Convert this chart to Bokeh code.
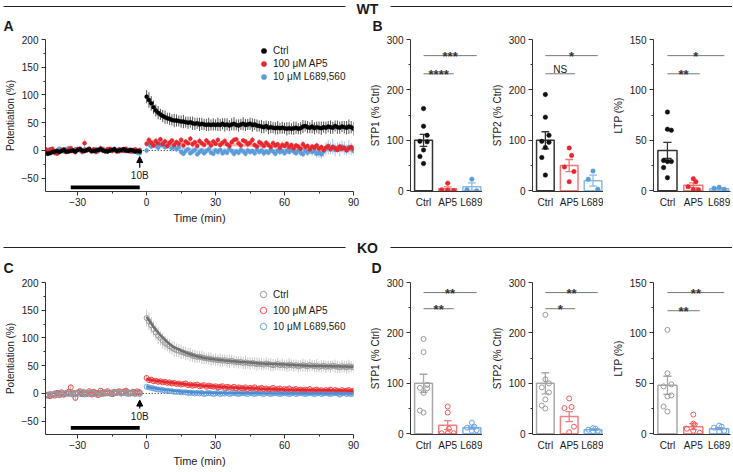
from bokeh.plotting import figure
from bokeh.layouts import column, row
from bokeh.models import (ColumnDataSource, FixedTicker, Legend, LegendItem, Arrow,
                          NormalHead, Label, Range1d, BoxAnnotation)
from bokeh.embed import file_html
from bokeh.resources import INLINE
from bokeh.core.properties import value

FONT = "Liberation Sans"
TXT = "#1a1a1a"

# ---------------- time-course data (Potentiation %, 1-min bins) ----------------
t_base = list(range(-44, -2))      # baseline, -44 .. -3 min
t_post = list(range(0, 91))        # after 10B, 0 .. 90 min
fit_t = [0, 1, 2, 3, 4, 5, 6, 8, 10, 12, 15, 18, 21, 25, 30, 35, 40, 50, 60, 70, 80, 90]

# WT
wt_ctrl_base = [-5, -6, -5, -3, -2, -1, -3, -1, 1, -2, -2, -1, 0, -2, 1, 2, 0, -1, 1, 2,
                -1, -1, 0, 1, 2, 0, -1, -2, 0, 1, 2, -1, 0, 1, 2, 0, -1, 1, 0, -2, -1, -2]
wt_ctrl_base_err = [3, 4, 3, 3, 2, 3, 4, 3, 3, 2, 3, 2, 3, 4, 3, 2, 3, 3, 2, 3,
                    4, 3, 2, 3, 3, 2, 3, 4, 3, 2, 3, 3, 2, 3, 4, 3, 2, 3, 3, 2, 3, 4]
wt_ctrl_post = [97, 91, 85, 78, 72, 68, 65, 62, 60, 58, 57, 55, 54, 54, 53, 52, 52, 51, 50, 51,
                49, 48, 49, 47, 48, 47, 46, 47, 46, 47, 46, 47, 46, 48, 46, 47, 45, 47, 48, 46,
                45, 47, 48, 46, 47, 48, 46, 47, 45, 44, 43, 42, 44, 41, 42, 41, 40, 41, 40, 41,
                40, 39, 40, 39, 40, 41, 39, 40, 43, 44, 42, 41, 43, 40, 42, 41, 40, 42, 41, 43,
                42, 41, 44, 42, 41, 43, 42, 41, 43, 42, 39]
wt_ctrl_post_err = [12, 14, 13, 12, 11, 12, 10, 11, 12, 10, 11, 10, 12, 11, 10, 11, 12, 10, 11, 10,
                    12, 11, 10, 12, 11, 10, 11, 12, 10, 11, 10, 12, 11, 10, 12, 11, 10, 11, 12, 10,
                    11, 10, 12, 11, 10, 11, 12, 10, 11, 10, 12, 11, 10, 12, 11, 10, 11, 12, 10, 11,
                    10, 12, 11, 10, 12, 11, 10, 11, 12, 10, 11, 10, 12, 11, 10, 11, 12, 10, 11, 10,
                    12, 11, 10, 12, 11, 10, 11, 12, 13, 11, 12]
wt_ap5_base = [2, -2, 1, 3, -4, -6, -2, 0, 2, -3, 1, 4, -1, -3, 2, 3, -2, 13, 0, 3,
               -1, 2, -3, 1, 4, 0, -2, 2, 3, -1, 1, -2, 2, 0, -1, 3, 1, -2, 0, 2, -1, 1]
wt_ap5_base_err = [4, 5, 3, 4, 5, 4, 3, 5, 4, 3, 4, 5, 3, 4, 4, 5, 3, 7, 4, 3,
                   5, 4, 3, 4, 5, 3, 4, 4, 3, 5, 4, 3, 4, 5, 3, 4, 4, 3, 5, 4, 3, 4]
wt_ap5_post = [12, 19, 14, 9, 17, 13, 20, 11, 16, 8, 14, 18, 10, 15, 12, 19, 9, 16, 13, 21,
               11, 15, 8, 17, 13, 10, 18, 14, 9, 16, 12, 19, 10, 14, 17, 11, 8, 15, 19, 20,
               13, 9, 18, 16, 11, 14, 19, 10, 7, 15, 12, 8, 14, 10, 6, 13, 9, 11, 5, 10,
               8, 12, 6, 10, 4, 9, 7, 3, 11, 6, 8, 2, 7, 5, 9, 3, 6, 1, 5, 8,
               2, 6, 4, 1, 7, 3, 5, 0, 4, 6, 3]
wt_ap5_post_err = [5, 6, 4, 5, 6, 4, 5, 5, 6, 4, 5, 4, 6, 5, 4, 5, 6, 4, 5, 5,
                   6, 4, 5, 6, 4, 5, 5, 4, 6, 5, 4, 5, 6, 4, 5, 5, 4, 6, 5, 4,
                   5, 6, 4, 5, 5, 4, 6, 5, 4, 5, 6, 4, 5, 5, 4, 6, 5, 4, 5, 6,
                   4, 5, 5, 4, 6, 5, 4, 5, 6, 4, 5, 5, 4, 6, 5, 4, 5, 6, 4, 5,
                   5, 4, 6, 5, 4, 5, 6, 4, 5, 5, 4]
wt_l689_base = [-3, 1, 2, -1, -4, 0, 3, 1, -2, 2, 4, 1, -1, 2, 3, 0, -3, 2, 1, 3,
                -2, 0, 2, -1, 1, 3, 0, 2, -1, 1, 3, 0, -2, 1, 2, -1, 0, 1, -3, -1, -4, -5]
wt_l689_base_err = [3, 4, 3, 5, 4, 3, 4, 3, 4, 5, 3, 4, 3, 4, 3, 5, 4, 3, 4, 3,
                    4, 3, 5, 4, 3, 4, 3, 4, 3, 5, 4, 3, 4, 3, 5, 4, 3, 4, 3, 4, 5, 4]
wt_l689_post = [0, 11, 7, 12, 9, 5, 10, 13, 6, 9, 11, 4, 8, 2, 6, -3, -6, -1, 2, -5,
                -2, 1, -7, -3, 0, -5, -1, 2, -4, -6, 0, -3, 1, -5, -2, -4, 2, -1, -6, -2,
                -4, 1, -2, -6, 0, -3, -1, -5, 1, -3, 0, -5, -2, -4, 1, -2, -6, 0, -3, -1,
                -5, 0, -3, 1, -2, -5, 0, -4, -7, -1, -4, 0, -3, -1, -6, -4, -7, -2, 3, 6,
                4, 7, 1, 5, 2, 7, 4, 1, 6, 3, -1]
wt_l689_post_err = [5, 6, 4, 5, 6, 5, 4, 6, 5, 4, 5, 6, 4, 5, 6, 5, 4, 6, 5, 4,
                    5, 6, 4, 5, 6, 5, 4, 6, 5, 4, 5, 6, 4, 5, 6, 5, 4, 6, 5, 4,
                    5, 6, 4, 5, 6, 5, 4, 6, 5, 4, 5, 6, 4, 5, 6, 5, 4, 6, 5, 4,
                    5, 6, 4, 5, 6, 5, 4, 6, 5, 4, 6, 7, 6, 8, 7, 9, 8, 10, 12, 13,
                    11, 14, 12, 10, 13, 11, 12, 10, 13, 11, 9]
wt_ctrl_fit = [96, 90, 84, 78, 73, 69, 65, 60, 57, 55, 52, 50, 48, 47, 46, 45, 45, 43, 41, 41, 41, 41]
wt_ap5_fit = [16, 16, 15.8, 15.6, 15.5, 15.3, 15.2, 15, 14.6, 14.3, 13.8, 13.3, 12.8, 12.2,
              11.5, 10.8, 10, 8.5, 7, 5.5, 4, 2.5]
wt_l689_fit = [10, 9.5, 9, 8.5, 8, 7.5, 7, 6, 5, 4.2, 3.2, 2.5, 2, 1.4, 1, 0.7, 0.5, 0.3, 0.2, 0.1, 0.1, 0.1]

# KO
ko_ctrl_base = [-3, -2, -1, -2, 0, -1, 1, -2, 0, 1, -1, 2, 0, -1, 1, 2, 3, 0, -1, 1,
                2, 0, -2, 1, 0, -1, 2, 1, 0, 2, 3, 1, 2, 0, 1, 3, 2, 0, 1, -1, 0, -1]
ko_ctrl_base_err = [3, 2, 3, 2, 3, 2, 3, 2, 3, 2, 3, 2, 3, 2, 3, 2, 3, 2, 3, 2,
                    3, 2, 3, 2, 3, 2, 3, 2, 3, 2, 3, 2, 3, 2, 3, 2, 3, 2, 3, 2, 3, 2]
ko_ctrl_post = [136, 130, 123, 116, 110, 104, 100, 95, 91, 88, 85, 82, 80, 78, 77, 75, 74, 72, 71, 70,
                68, 67, 66, 66, 65, 64, 63, 63, 62, 61, 61, 60, 60, 59, 60, 58, 58, 59, 57, 57,
                56, 57, 55, 56, 55, 54, 55, 54, 53, 54, 53, 52, 54, 53, 52, 51, 52, 53, 51, 52,
                51, 50, 52, 51, 50, 51, 49, 50, 51, 50, 49, 51, 50, 49, 50, 48, 49, 50, 48, 49,
                48, 50, 49, 48, 47, 49, 48, 47, 49, 48, 47]
ko_ctrl_post_err = [15, 16, 15, 14, 14, 15, 13, 14, 13, 12, 13, 12, 14, 12, 12, 13, 11, 12, 11, 12,
                    11, 12, 11, 10, 12, 11, 10, 11, 12, 10, 11, 10, 12, 11, 10, 11, 12, 10, 11, 10,
                    11, 10, 11, 12, 10, 11, 10, 11, 12, 10, 11, 10, 11, 10, 12, 11, 10, 11, 10, 11,
                    10, 11, 12, 10, 11, 10, 11, 10, 12, 11, 10, 11, 10, 11, 12, 10, 11, 10, 11, 10,
                    11, 10, 12, 11, 10, 11, 10, 11, 12, 10, 9]
ko_ap5_base = [-4, -3, -5, -2, -4, 1, -3, 2, -2, 0, 3, 11, 1, -8, 2, 4, -1, 2, 0, 4,
               -2, 3, 1, -3, 5, 2, 0, 4, 1, -1, 3, 2, 4, 1, 3, 5, 2, 0, 3, 1, 4, 2]
ko_ap5_base_err = [4, 5, 4, 5, 4, 5, 4, 5, 4, 5, 4, 6, 4, 6, 4, 5, 4, 5, 4, 5,
                   4, 5, 4, 5, 4, 5, 4, 5, 4, 5, 4, 5, 4, 5, 4, 5, 4, 5, 4, 5, 4, 5]
ko_ap5_post = [28, 24, 25, 22, 23, 21, 22, 20, 21, 19, 20, 18, 19, 17, 18, 16, 17, 18, 15, 16,
               14, 15, 16, 13, 14, 15, 12, 14, 13, 12, 13, 11, 12, 13, 10, 12, 11, 10, 12, 9,
               11, 10, 9, 11, 8, 10, 9, 11, 8, 9, 10, 8, 9, 7, 8, 10, 7, 8, 9, 6,
               8, 7, 9, 6, 7, 8, 6, 7, 5, 7, 6, 8, 5, 6, 7, 5, 6, 4, 6, 5,
               7, 4, 6, 5, 3, 6, 4, 5, 6, 4, 5]
ko_ap5_post_err = [5, 5, 4, 5, 4, 5, 4, 4, 5, 4, 4, 5, 4, 4, 5, 4, 4, 5, 4, 4,
                   5, 4, 4, 5, 4, 4, 5, 4, 4, 5, 4, 4, 5, 4, 4, 5, 4, 4, 5, 4,
                   4, 5, 4, 4, 5, 4, 4, 5, 4, 4, 5, 4, 4, 5, 4, 4, 5, 4, 4, 5,
                   4, 4, 5, 4, 4, 5, 4, 4, 5, 4, 4, 5, 4, 4, 5, 4, 4, 5, 4, 4,
                   5, 4, 4, 5, 4, 4, 5, 4, 4, 5, 4]
ko_l689_base = [-3, -4, -2, -3, -1, -2, 0, -1, -2, 1, 0, -1, -2, 0, 1, -1, 0, -2, -1, 0,
                1, -1, 0, 1, -1, 0, 2, 0, 1, -1, 0, 1, 2, 0, 1, 0, -1, 1, 0, 2, 1, 0]
ko_l689_base_err = [2, 3, 2, 3, 2, 3, 2, 3, 2, 3, 2, 3, 2, 3, 2, 3, 2, 3, 2, 3,
                    2, 3, 2, 3, 2, 3, 2, 3, 2, 3, 2, 3, 2, 3, 2, 3, 2, 3, 2, 3, 2, 3]
ko_l689_post = [12, 11, 10, 9, 8, 7, 7, 6, 5, 5, 4, 4, 3, 3, 3, 2, 2, 2, 1, 1,
                1, 0, 1, 0, 1, -1, 0, 1, 0, -1, 0, 1, -1, 0, 0, 1, -1, 0, 1, 0,
                -1, 0, 1, 0, -1, 1, 0, -1, 0, 1, 0, -1, 1, 0, -1, 0, 1, 0, -1, 0,
                1, 0, -1, 0, 1, -1, 0, 1, 0, -1, 0, 1, 0, -1, 0, 1, -1, 0, 1, 0,
                -1, 0, 1, 0, -2, 0, 1, -1, 0, -1, 0]
ko_l689_post_err = [3, 3, 2, 3, 3, 2, 3, 3, 2, 3, 3, 2, 3, 3, 2, 3, 3, 2, 3, 3,
                    2, 3, 3, 2, 3, 3, 2, 3, 3, 2, 3, 3, 2, 3, 3, 2, 3, 3, 2, 3,
                    3, 2, 3, 3, 2, 3, 3, 2, 3, 3, 2, 3, 3, 2, 3, 4, 3, 4, 3, 4,
                    3, 4, 3, 4, 3, 4, 3, 4, 3, 4, 4, 5, 4, 5, 4, 5, 4, 5, 4, 5,
                    5, 4, 5, 4, 6, 5, 4, 5, 4, 5, 4]
ko_ctrl_fit = [138, 132, 126, 120, 115, 110, 105, 97, 89, 83, 77, 72, 68, 64, 61, 59, 57, 54, 52, 50, 49, 48]
ko_ap5_fit = [26, 25, 24.3, 23.6, 23, 22.4, 21.8, 20.7, 19.6, 18.7, 17.4, 16.2, 15.1, 13.8,
              12.4, 11.3, 10.3, 8.6, 7.3, 6.3, 5.6, 5]
ko_l689_fit = [12, 11.2, 10.4, 9.7, 9, 8.3, 7.7, 6.6, 5.6, 4.8, 3.7, 2.9, 2.2, 1.6, 1, 0.7,
               0.5, 0.2, 0.1, 0.1, 0, 0]

series_labels = ["Ctrl", "100 \u03bcM AP5", "10 \u03bcM L689,560"]
drug_window = [-33, -3]
stim_time = -3

# ---------------- summary bar data ----------------
groups = ["Ctrl", "AP5", "L689"]
wt_stp1_ctrl = [163, 128, 110, 98, 97, 81, 68, 54]
wt_stp1_ap5 = [15, 2, 1, 0]
wt_stp1_l689 = [23, 2, 0]
wt_stp1_mean = [100, 4, 8]
wt_stp1_sem = [12, 3.5, 7.5]
wt_stp2_ctrl = [191, 146, 110, 98, 96, 86, 66, 31]
wt_stp2_ap5 = [85, 70, 47, 38, 18]
wt_stp2_l689 = [39, 23, 3]
wt_stp2_mean = [100, 50, 20]
wt_stp2_sem = [17, 12, 11]
wt_ltp_ctrl = [78, 61, 60, 30, 29, 29, 23, 13]
wt_ltp_ap5 = [12, 9, 4, 1, 1]
wt_ltp_l689 = [3.5, 2.5, 1.5]
wt_ltp_mean = [40, 5.5, 2]
wt_ltp_sem = [8, 2.3, 0.6]
ko_stp1_ctrl = [188, 162, 97, 91, 90, 81, 46, 42]
ko_stp1_ap5 = [54, 42, 10, 1, 1, 1]
ko_stp1_l689 = [22, 14, 12, 7, 6]
ko_stp1_mean = [100, 17, 12]
ko_stp1_sem = [18, 9, 3]
ko_stp2_ctrl = [236, 108, 100, 92, 82, 68, 56, 50]
ko_stp2_ap5 = [70, 53, 51, 14, 3]
ko_stp2_l689 = [11, 10, 8, 6, 5]
ko_stp2_mean = [100, 34, 8]
ko_stp2_sem = [21, 10, 1.5]
ko_ltp_ctrl = [103, 60, 49, 47, 38, 37, 27, 22]
ko_ltp_ap5 = [19, 10, 9, 5, 3, 1]
ko_ltp_l689 = [8, 7, 6, 3, 2]
ko_ltp_mean = [48, 7, 5]
ko_ltp_sem = [9, 3, 1]

wt_sig = [("****", "***"), ("NS", "*"), ("**", "*")]
ko_sig = [("**", "**"), ("*", "**"), ("**", "**")]

# ---------------- style ----------------
JIT = {3: [0, -0.2, 0.2], 4: [0, -0.25, 0, 0.25], 5: [0, 0.1, -0.2, 0.2, 0],
       6: [0, 0, 0.05, -0.25, 0, 0.25], 8: [0, 0, 0.15, -0.15, 0.15, 0, -0.15, 0]}
W_TOT = 732


def style(p, label_size="10px"):
    for ax in p.axis:
        ax.axis_line_color = "#333333"
        ax.major_tick_line_color = "#333333"
        ax.minor_tick_line_color = "#333333"
        ax.major_tick_out = 4
        ax.major_tick_in = 0
        ax.minor_tick_out = 2
        ax.minor_tick_in = 0
        ax.major_label_text_font = FONT
        ax.major_label_text_font_size = "10px"
        ax.major_label_text_color = TXT
        ax.major_label_standoff = 3
        ax.axis_label_text_font = FONT
        ax.axis_label_text_font_size = label_size
        ax.axis_label_text_font_style = "normal"
        ax.axis_label_text_color = TXT
        ax.axis_label_standoff = 3
    p.xgrid.visible = False
    p.ygrid.visible = False
    p.outline_line_color = None


def header(h, line_y, text_y, title, letters):
    p = figure(width=W_TOT, height=h, x_range=Range1d(0, W_TOT), y_range=Range1d(h, 0),
               x_axis_location=None, y_axis_location=None, min_border=0,
               output_backend="svg", toolbar_location=None)
    p.xgrid.visible = False
    p.ygrid.visible = False
    p.outline_line_color = None
    p.segment(x0=[3, 390], y0=[line_y, line_y], x1=[345, W_TOT], y1=[line_y, line_y],
              line_color="#222222", line_width=1.2)
    p.text(x=[367], y=[text_y], text=[title], text_align="center", text_baseline="middle",
           text_font=value(FONT), text_font_size="14px", text_font_style="bold", text_color=TXT)
    p.text(x=[l[0] for l in letters], y=[l[1] for l in letters], text=[l[2] for l in letters],
           text_align="left", text_baseline="middle", text_font=value(FONT),
           text_font_size="14px", text_font_style="bold", text_color=TXT)
    return p


def trace_src(base, base_err, post, post_err):
    t = t_base + t_post
    m = base + post
    e = base_err + post_err
    return ColumnDataSource(dict(t=t, m=m, lo=[a - b for a, b in zip(m, e)],
                                 hi=[a + b for a, b in zip(m, e)]))


def time_panel(data, fits, colors, ecolors, fcolors, filled, fit_w, fits_on_top,
               leg_loc, leg_h, leg_standoff, bar_y, arrow_y, lab_y, height, mbb):
    p = figure(width=360, height=height, x_range=Range1d(-44, 90), y_range=Range1d(-74, 200),
               min_border_left=45, min_border_right=7, min_border_top=6, min_border_bottom=mbb,
               output_backend="svg", toolbar_location=None)
    style(p)
    p.xaxis.axis_label = "Time (min)"
    p.xaxis.axis_label_text_font_size = "11px"
    p.xaxis.major_label_standoff = 2
    p.yaxis.axis_label = "Potentiation (%)"
    p.xaxis.ticker = FixedTicker(ticks=[-30, 0, 30, 60, 90], minor_ticks=[-15, 15, 45, 75])
    p.yaxis.ticker = FixedTicker(ticks=[-50, 0, 50, 100, 150, 200],
                                 minor_ticks=[-25, 25, 75, 125, 175])
    # zero reference (dotted)
    p.line(x=[stim_time, 90], y=[0, 0], line_color="#222222", line_width=1, line_dash="1 2")
    srcs = [trace_src(*d) for d in data]
    order = [2, 1, 0]
    for i in order:
        p.segment(x0="t", y0="lo", x1="t", y1="hi", source=srcs[i], line_color=ecolors[i],
                  line_width=1)

    def draw_fits():
        for i in order:
            p.line(x=fit_t, y=fits[i], line_color=fcolors[i], line_width=fit_w)
    if not fits_on_top:
        draw_fits()
    rends = {}
    for i in order:
        if filled:
            rends[i] = p.scatter(x="t", y="m", source=srcs[i], size=4, marker="circle",
                                 fill_color=colors[i], line_color=colors[i], line_width=0.5)
        else:
            rends[i] = p.scatter(x="t", y="m", source=srcs[i], size=5, marker="circle",
                                 fill_color=None, line_color=colors[i], line_width=1)
    if fits_on_top:
        draw_fits()
    # drug application bar, stimulus arrow
    p.add_layout(BoxAnnotation(left=drug_window[0], right=drug_window[1], bottom=bar_y - 3.5,
                               top=bar_y + 3.5, fill_color="black", fill_alpha=1, line_alpha=0))
    p.add_layout(Arrow(end=NormalHead(size=6, fill_color="black", line_color="black", line_width=1),
                       x_start=stim_time, y_start=arrow_y[0], x_end=stim_time, y_end=arrow_y[1],
                       line_color="black", line_width=1.2))
    p.add_layout(Label(x=stim_time, y=lab_y, text="10B", text_align="center",
                       text_baseline="middle", text_font=FONT, text_font_size="10px",
                       text_color=TXT))
    leg = Legend(items=[LegendItem(label=series_labels[i], renderers=[rends[i]]) for i in range(3)],
                 location=leg_loc, glyph_width=leg_h, glyph_height=leg_h, label_height=leg_h,
                 label_width=10, spacing=0, padding=0, margin=0, label_standoff=leg_standoff,
                 label_text_font=FONT, label_text_font_size="10px", label_text_color=TXT,
                 border_line_alpha=0, background_fill_alpha=0)
    p.add_layout(leg)
    return p


def bar_panel(pts, means, sems, ylabel, ymax, yticks, minor, dot_colors, bar_colors,
              filled, sig, sig_y, width, mbr, height, mbb):
    p = figure(width=width, height=height, x_range=Range1d(-0.54, 2.44),
               y_range=Range1d(-ymax * 0.005, ymax),
               min_border_left=50, min_border_right=mbr, min_border_top=6, min_border_bottom=mbb,
               output_backend="svg", toolbar_location=None)
    style(p)
    p.yaxis.axis_label = ylabel
    p.yaxis.ticker = FixedTicker(ticks=yticks, minor_ticks=minor)
    p.xaxis.ticker = FixedTicker(ticks=[0, 1, 2], minor_ticks=[])
    p.xaxis.major_label_overrides = {0: groups[0], 1: groups[1], 2: groups[2]}
    p.xaxis.major_tick_out = 0
    p.xaxis.major_label_standoff = 5
    xs = [0, 1, 2]
    p.vbar(x=xs, top=means, width=0.74, bottom=0, fill_color="white", line_color=bar_colors,
           line_width=1.5)
    lo = [m - s for m, s in zip(means, sems)]
    hi = [m + s for m, s in zip(means, sems)]
    p.segment(x0=xs, y0=lo, x1=xs, y1=hi, line_color=bar_colors, line_width=1.3)
    cw = 0.16
    p.segment(x0=[x - cw for x in xs], y0=hi, x1=[x + cw for x in xs], y1=hi,
              line_color=bar_colors, line_width=1.3)
    p.segment(x0=[x - cw for x in xs], y0=lo, x1=[x + cw for x in xs], y1=lo,
              line_color=bar_colors, line_width=1.3)
    for g, vals in enumerate(pts):
        jx = [g + j for j in JIT[len(vals)]]
        if filled:
            p.scatter(x=jx, y=vals, size=4.5, marker="circle", fill_color=dot_colors[g],
                      line_color=dot_colors[g], line_width=0.5)
        else:
            p.scatter(x=jx, y=vals, size=5, marker="circle", fill_color=None,
                      line_color=dot_colors[g], line_width=1)
    # significance brackets
    short_lab, long_lab = sig
    sy_short, sy_long = sig_y
    p.segment(x0=[0, 0], y0=[sy_short, sy_long], x1=[1.25, 2.2], y1=[sy_short, sy_long],
              line_color="#777777", line_width=1)
    for lab, x, y in [(short_lab, 0.625, sy_short), (long_lab, 1.1, sy_long)]:
        if lab == "NS":
            p.text(x=[x], y=[y], text=[lab], text_align="center", text_baseline="alphabetic",
                   y_offset=-4, text_font=value(FONT), text_font_size="10px", text_color=TXT)
        else:
            p.text(x=[x], y=[y], text=[lab], text_align="center", text_baseline="alphabetic",
                   y_offset=1, text_font=value(FONT), text_font_size="13px",
                   text_font_style="bold", text_color="#333333")
    return p


# ---------------- build ----------------
WT_DOT = ["#111111", "#e8262d", "#5b9bd8"]
WT_BAR = ["#333333", "#f07878", "#8cb8e8"]
KO_DOT = ["#9a9a9a", "#ee5a5a", "#6aa2dc"]
KO_BAR = ["#a8a8a8", "#f08080", "#80b0e6"]

pA = time_panel(
    [(wt_ctrl_base, wt_ctrl_base_err, wt_ctrl_post, wt_ctrl_post_err),
     (wt_ap5_base, wt_ap5_base_err, wt_ap5_post, wt_ap5_post_err),
     (wt_l689_base, wt_l689_base_err, wt_l689_post, wt_l689_post_err)],
    [wt_ctrl_fit, wt_ap5_fit, wt_l689_fit],
    ["#000000", "#e8262d", "#5b9bd8"], ["#555555", "#f3a3a3", "#a9c9ee"],
    ["#9e9e9e", "#f6b0b0", "#b4d2f2"], True, 3, False,
    (212, 108), 13, 3, -66.5, (-31, -11), -45, 196, 38)

pC = time_panel(
    [(ko_ctrl_base, ko_ctrl_base_err, ko_ctrl_post, ko_ctrl_post_err),
     (ko_ap5_base, ko_ap5_base_err, ko_ap5_post, ko_ap5_post_err),
     (ko_l689_base, ko_l689_base_err, ko_l689_post, ko_l689_post_err)],
    [ko_ctrl_fit, ko_ap5_fit, ko_l689_fit],
    ["#9a9a9a", "#ee4a4a", "#6aa2dc"], ["#c8c8c8", "#f5abab", "#b2ceee"],
    ["#707070", "#e8262d", "#4a8cd6"], False, 2.5, True,
    (210, 100), 16, 2, -62, (-27, -12), -41, 194, 36)

B = [
    bar_panel([wt_stp1_ctrl, wt_stp1_ap5, wt_stp1_l689], wt_stp1_mean, wt_stp1_sem,
              "STP1 (% Ctrl)", 300, [0, 100, 200, 300], [50, 150, 250], WT_DOT, WT_BAR, True,
              wt_sig[0], (232, 268), 122, 0, 196, 37),
    bar_panel([wt_stp2_ctrl, wt_stp2_ap5, wt_stp2_l689], wt_stp2_mean, wt_stp2_sem,
              "STP2 (% Ctrl)", 300, [0, 100, 200, 300], [50, 150, 250], WT_DOT, WT_BAR, True,
              wt_sig[1], (232, 268), 121, 0, 196, 37),
    bar_panel([wt_ltp_ctrl, wt_ltp_ap5, wt_ltp_l689], wt_ltp_mean, wt_ltp_sem,
              "LTP (%)", 150, [0, 50, 100, 150], [25, 75, 125], WT_DOT, WT_BAR, True,
              wt_sig[2], (116, 134), 129, 2, 196, 37),
]
D = [
    bar_panel([ko_stp1_ctrl, ko_stp1_ap5, ko_stp1_l689], ko_stp1_mean, ko_stp1_sem,
              "STP1 (% Ctrl)", 300, [0, 100, 200, 300], [50, 150, 250], KO_DOT, KO_BAR, False,
              ko_sig[0], (248, 280), 122, 0, 194, 35),
    bar_panel([ko_stp2_ctrl, ko_stp2_ap5, ko_stp2_l689], ko_stp2_mean, ko_stp2_sem,
              "STP2 (% Ctrl)", 300, [0, 100, 200, 300], [50, 150, 250], KO_DOT, KO_BAR, False,
              ko_sig[1], (248, 280), 121, 0, 194, 35),
    bar_panel([ko_ltp_ctrl, ko_ltp_ap5, ko_ltp_l689], ko_ltp_mean, ko_ltp_sem,
              "LTP (%)", 150, [0, 50, 100, 150], [25, 75, 125], KO_DOT, KO_BAR, False,
              ko_sig[2], (122, 140), 129, 2, 194, 35),
]

h1 = header(33, 6, 8, "WT", [(3, 25, "A"), (372, 25, "B")])
h2 = header(47, 18, 18, "KO", [(3, 38.5, "C"), (371, 38.5, "D")])

layout = column(h1, row(pA, *B), h2, row(pC, *D))

with open("out.html", "w") as f:
    f.write(file_html(layout, INLINE))
